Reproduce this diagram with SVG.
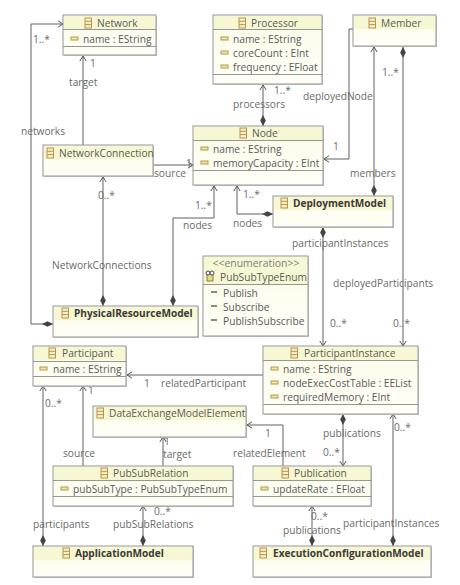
<svg xmlns="http://www.w3.org/2000/svg" width="460" height="585" viewBox="0 0 460 585">
<defs>
<linearGradient id="g" x1="0" y1="0" x2="0" y2="1"><stop offset="0" stop-color="#fbfbe8"/><stop offset="1" stop-color="#fffff8"/></linearGradient>
<marker id="arr" markerUnits="userSpaceOnUse" markerWidth="10" markerHeight="10" refX="9" refY="5" orient="auto"><path d="M4,1.800 L9,5 L4,8.200" fill="none" stroke="#555" stroke-width="1"/></marker>
<marker id="dia" markerUnits="userSpaceOnUse" markerWidth="14" markerHeight="10" refX="0.5" refY="5" orient="auto"><path d="M0.5,5 L6,2.200 L11.500,5 L6,7.800 Z" fill="#444"/></marker>
<g id="ci"><rect x="0" y="0" width="6.500" height="10" fill="#f5efc8" stroke="#b8964a" stroke-width="1"/><path d="M0,3.300 H6.500 M0,6.600 H6.500" stroke="#b8964a" stroke-width="1"/></g>
<g id="ai"><rect x="0" y="0" width="7" height="3" fill="#f0e6a8" stroke="#b09a50" stroke-width="1"/></g>
</defs>
<style>
text{font-family:"Open Sans","Noto Sans","Liberation Sans",sans-serif;font-size:10.2px;fill:#5a5a5a}
.b{fill:url(#g);stroke:#969696;stroke-width:1}
.s{fill:#c8c8c8}
.h{fill:#f7f7d4}
.d{stroke:#969696;stroke-width:1;fill:none}
.t{font-weight:700;fill:#3a3a3a;font-size:10.100px}
.m{text-anchor:middle}
.c{fill:none;stroke:#606060;stroke-width:1}
.l{fill:#6a6a6a}
</style>
<rect width="460" height="585" fill="#fff"/>

<g id="connectors">
<path class="c" d="M53,324 H31 V24 H63" marker-start="url(#dia)" marker-end="url(#arr)"/>
<path class="c" d="M83,145 V56" marker-end="url(#arr)"/>
<path class="c" d="M153,165 H193" marker-end="url(#arr)"/>
<path class="c" d="M103,306 V177" marker-start="url(#dia)" marker-end="url(#arr)"/>
<path class="c" d="M173,306 V218 H214 V186" marker-start="url(#dia)" marker-end="url(#arr)"/>
<path class="c" d="M263,126 V85" marker-start="url(#dia)" marker-end="url(#arr)"/>
<path class="c" d="M353,29 H349 V159 H324" marker-end="url(#arr)"/>
<path class="c" d="M374,196 V47" marker-start="url(#dia)" marker-end="url(#arr)"/>
<path class="c" d="M273,214 H237 V186" marker-start="url(#dia)" marker-end="url(#arr)"/>
<path class="c" d="M403,47 V346" marker-start="url(#dia)" marker-end="url(#arr)"/>
<path class="c" d="M323,227 V346" marker-start="url(#dia)" marker-end="url(#arr)"/>
<path class="c" d="M263,375 H127" marker-end="url(#arr)"/>
<path class="c" d="M43,546 V386" marker-start="url(#dia)" marker-end="url(#arr)"/>
<path class="c" d="M83,466 V386" marker-end="url(#arr)"/>
<path class="c" d="M163,466 V437" marker-end="url(#arr)"/>
<path class="c" d="M143,546 V506" marker-start="url(#dia)" marker-end="url(#arr)"/>
<path class="c" d="M343,414 V466" marker-start="url(#dia)" marker-end="url(#arr)"/>
<path class="c" d="M393,546 V414" marker-start="url(#dia)" marker-end="url(#arr)"/>
<path class="c" d="M283,466 V425 H247" marker-end="url(#arr)"/>
<path class="c" d="M312,546 V506" marker-start="url(#dia)" marker-end="url(#arr)"/>
</g>

<g id="connector-labels">
<text class="l" x="33" y="43">1..*</text>
<text class="l" x="90" y="67">1</text>
<text class="l" x="69" y="86">target</text>
<text class="l" x="21" y="135">networks</text>
<text class="l" x="154" y="177">source</text>
<text class="l" x="186" y="167">1</text>
<text class="l" x="98" y="199">0..*</text>
<text class="l" x="52" y="269">NetworkConnections</text>
<text class="l" x="195" y="209">1..*</text>
<text class="l" x="183" y="229">nodes</text>
<text class="l" x="274" y="94">1..*</text>
<text class="l" x="233" y="108">processors</text>
<text class="l" x="303" y="100">deployedNode</text>
<text class="l" x="333" y="150">1</text>
<text class="l" x="382" y="76">1..*</text>
<text class="l" x="350" y="177">members</text>
<text class="l" x="243" y="198">1..*</text>
<text class="l" x="233" y="227">nodes</text>
<text class="l" x="292" y="247">participantInstances</text>
<text class="l" x="333" y="287">deployedParticipants</text>
<text class="l" x="330" y="327">0..*</text>
<text class="l" x="393" y="327">0..*</text>
<text class="l" x="144" y="387">1</text>
<text class="l" x="161" y="387">relatedParticipant</text>
<text class="l" x="45" y="407">0..*</text>
<text class="l" x="88" y="394">1</text>
<text class="l" x="63" y="457">source</text>
<text class="l" x="163" y="458">target</text>
<text class="l" x="164" y="445">1</text>
<text class="l" x="265" y="437">1</text>
<text class="l" x="233" y="457">relatedElement</text>
<text class="l" x="323" y="437">publications</text>
<text class="l" x="323" y="456">0..*</text>
<text class="l" x="394" y="431">0..*</text>
<text class="l" x="154" y="515">0..*</text>
<text class="l" x="113" y="528">pubSubRelations</text>
<text class="l" x="33" y="528">participants</text>
<text class="l" x="311" y="520">0..*</text>
<text class="l" x="283" y="534">publications</text>
<text class="l" x="343" y="527">participantInstances</text>
</g>

<g id="Network"><rect class="s" x="64" y="16" width="93" height="40"/><rect class="b" x="63" y="15" width="93" height="40"/><rect class="h" x="64" y="16" width="91" height="13"/><path class="d" d="M63,29.500 H156 M63,46.500 H156"/><use href="#ci" x="85" y="18"/><text x="97" y="27">Network</text><use href="#ai" x="71" y="37"/><text x="83" y="43">name : EString</text></g>

<g id="Processor"><rect class="s" x="214" y="16" width="109" height="69"/><rect class="b" x="213" y="15" width="109" height="69"/><rect class="h" x="214" y="16" width="107" height="13"/><path class="d" d="M213,29.500 H322 M213,74.500 H322"/><use href="#ci" x="239" y="18"/><text x="251" y="27">Processor</text><use href="#ai" x="221" y="37"/><text x="233" y="43">name : EString</text><use href="#ai" x="221" y="51"/><text x="233" y="57">coreCount : EInt</text><use href="#ai" x="221" y="65"/><text x="233" y="71">frequency : EFloat</text></g>

<g id="Member"><rect class="s" x="354" y="16" width="83" height="31"/><rect class="b" x="353" y="15" width="83" height="31"/><rect class="h" x="354" y="16" width="81" height="13"/><use href="#ci" x="369" y="18"/><text x="381" y="27">Member</text></g>

<g id="Node"><rect class="s" x="194" y="127" width="130" height="59"/><rect class="b" x="193" y="126" width="130" height="59"/><rect class="h" x="194" y="127" width="128" height="13"/><path class="d" d="M193,140.500 H323 M193,170.500 H323"/><use href="#ci" x="240" y="128"/><text x="252" y="137">Node</text><use href="#ai" x="201" y="147"/><text x="213" y="153">name : EString</text><use href="#ai" x="201" y="161"/><text x="213" y="167">memoryCapacity : EInt</text></g>

<g id="NetworkConnection"><rect class="s" x="44" y="146" width="110" height="31"/><rect class="b" x="43" y="145" width="110" height="31"/><rect class="h" x="44" y="146" width="108" height="13"/><use href="#ci" x="47" y="148"/><text x="59" y="157">NetworkConnection</text></g>

<g id="DeploymentModel"><rect class="s" x="274" y="197" width="120" height="31"/><rect class="b" x="273" y="196" width="120" height="31"/><rect class="h" x="274" y="197" width="118" height="13"/><use href="#ci" x="281" y="198"/><text class="t" x="293" y="207">DeploymentModel</text></g>

<g id="PubSubTypeEnum"><rect class="s" x="204" y="257" width="105" height="80"/><rect class="b" x="203" y="256" width="105" height="80"/><rect class="h" x="204" y="257" width="103" height="27"/><path class="d" d="M203,284.500 H308"/><text class="m" x="256" y="267" style="fill:#808080;font-size:10.4px">&lt;&lt;enumeration&gt;&gt;</text><path d="M207,274 h6 v7 h-6 z" fill="#e8d98a" stroke="#8a7a30" stroke-width="1"/><circle cx="208" cy="273" r="2" fill="#fff" stroke="#446" stroke-width="1"/><circle cx="212" cy="273" r="2" fill="#fff" stroke="#446" stroke-width="1"/><text x="220" y="281">PubSubTypeEnum</text><path d="M211,292 H217 M211,306 H217 M211,320 H217" stroke="#665" stroke-width="1.500"/><text x="223" y="297">Publish</text><text x="223" y="311">Subscribe</text><text x="223" y="325">PublishSubscribe</text></g>

<g id="PhysicalResourceModel"><rect class="s" x="54" y="307" width="145" height="31"/><rect class="b" x="53" y="306" width="145" height="31"/><rect class="h" x="54" y="307" width="143" height="13"/><use href="#ci" x="62" y="308"/><text class="t" x="74" y="317">PhysicalResourceModel</text></g>

<g id="Participant"><rect class="s" x="34" y="347" width="93" height="40"/><rect class="b" x="33" y="346" width="93" height="40"/><rect class="h" x="34" y="347" width="91" height="13"/><path class="d" d="M33,361.500 H126 M33,376.500 H126"/><use href="#ci" x="49" y="348"/><text x="62" y="357">Participant</text><use href="#ai" x="40" y="367"/><text x="53" y="373">name : EString</text></g>

<g id="ParticipantInstance"><rect class="s" x="264" y="347" width="155" height="68"/><rect class="b" x="263" y="346" width="155" height="68"/><rect class="h" x="264" y="347" width="153" height="13"/><path class="d" d="M263,360.500 H418 M263,404.500 H418"/><use href="#ci" x="291" y="348"/><text x="304" y="357">ParticipantInstance</text><use href="#ai" x="271" y="367"/><text x="283" y="373">name : EString</text><use href="#ai" x="271" y="381"/><text x="283" y="387">nodeExecCostTable : EEList</text><use href="#ai" x="271" y="395"/><text x="283" y="401">requiredMemory : EInt</text></g>

<g id="DataExchangeModelElement"><rect class="s" x="94" y="407" width="153" height="31"/><rect class="b" x="93" y="406" width="153" height="31"/><rect class="h" x="94" y="407" width="151" height="13"/><use href="#ci" x="97" y="408"/><text x="109" y="417">DataExchangeModelElement</text></g>

<g id="PubSubRelation"><rect class="s" x="54" y="467" width="180" height="40"/><rect class="b" x="53" y="466" width="180" height="40"/><rect class="h" x="54" y="467" width="178" height="13"/><path class="d" d="M53,480.500 H233 M53,496.500 H233"/><use href="#ci" x="101" y="468"/><text x="113" y="477">PubSubRelation</text><use href="#ai" x="61" y="487"/><text x="73" y="493">pubSubType : PubSubTypeEnum</text></g>

<g id="Publication"><rect class="s" x="254" y="467" width="118" height="40"/><rect class="b" x="253" y="466" width="118" height="40"/><rect class="h" x="254" y="467" width="116" height="13"/><path class="d" d="M253,480.500 H371 M253,496.500 H371"/><use href="#ci" x="282" y="468"/><text x="294" y="477">Publication</text><use href="#ai" x="261" y="487"/><text x="273" y="493">updateRate : EFloat</text></g>

<g id="ApplicationModel"><rect class="s" x="34" y="547" width="160" height="31"/><rect class="b" x="33" y="546" width="160" height="31"/><rect class="h" x="34" y="547" width="158" height="13"/><use href="#ci" x="63" y="548"/><text class="t" x="75" y="557">ApplicationModel</text></g>

<g id="ExecutionConfigurationModel"><rect class="s" x="254" y="547" width="178" height="31"/><rect class="b" x="253" y="546" width="178" height="31"/><rect class="h" x="254" y="547" width="176" height="13"/><use href="#ci" x="260" y="548"/><text class="t" x="273" y="557">ExecutionConfigurationModel</text></g>
</svg>
